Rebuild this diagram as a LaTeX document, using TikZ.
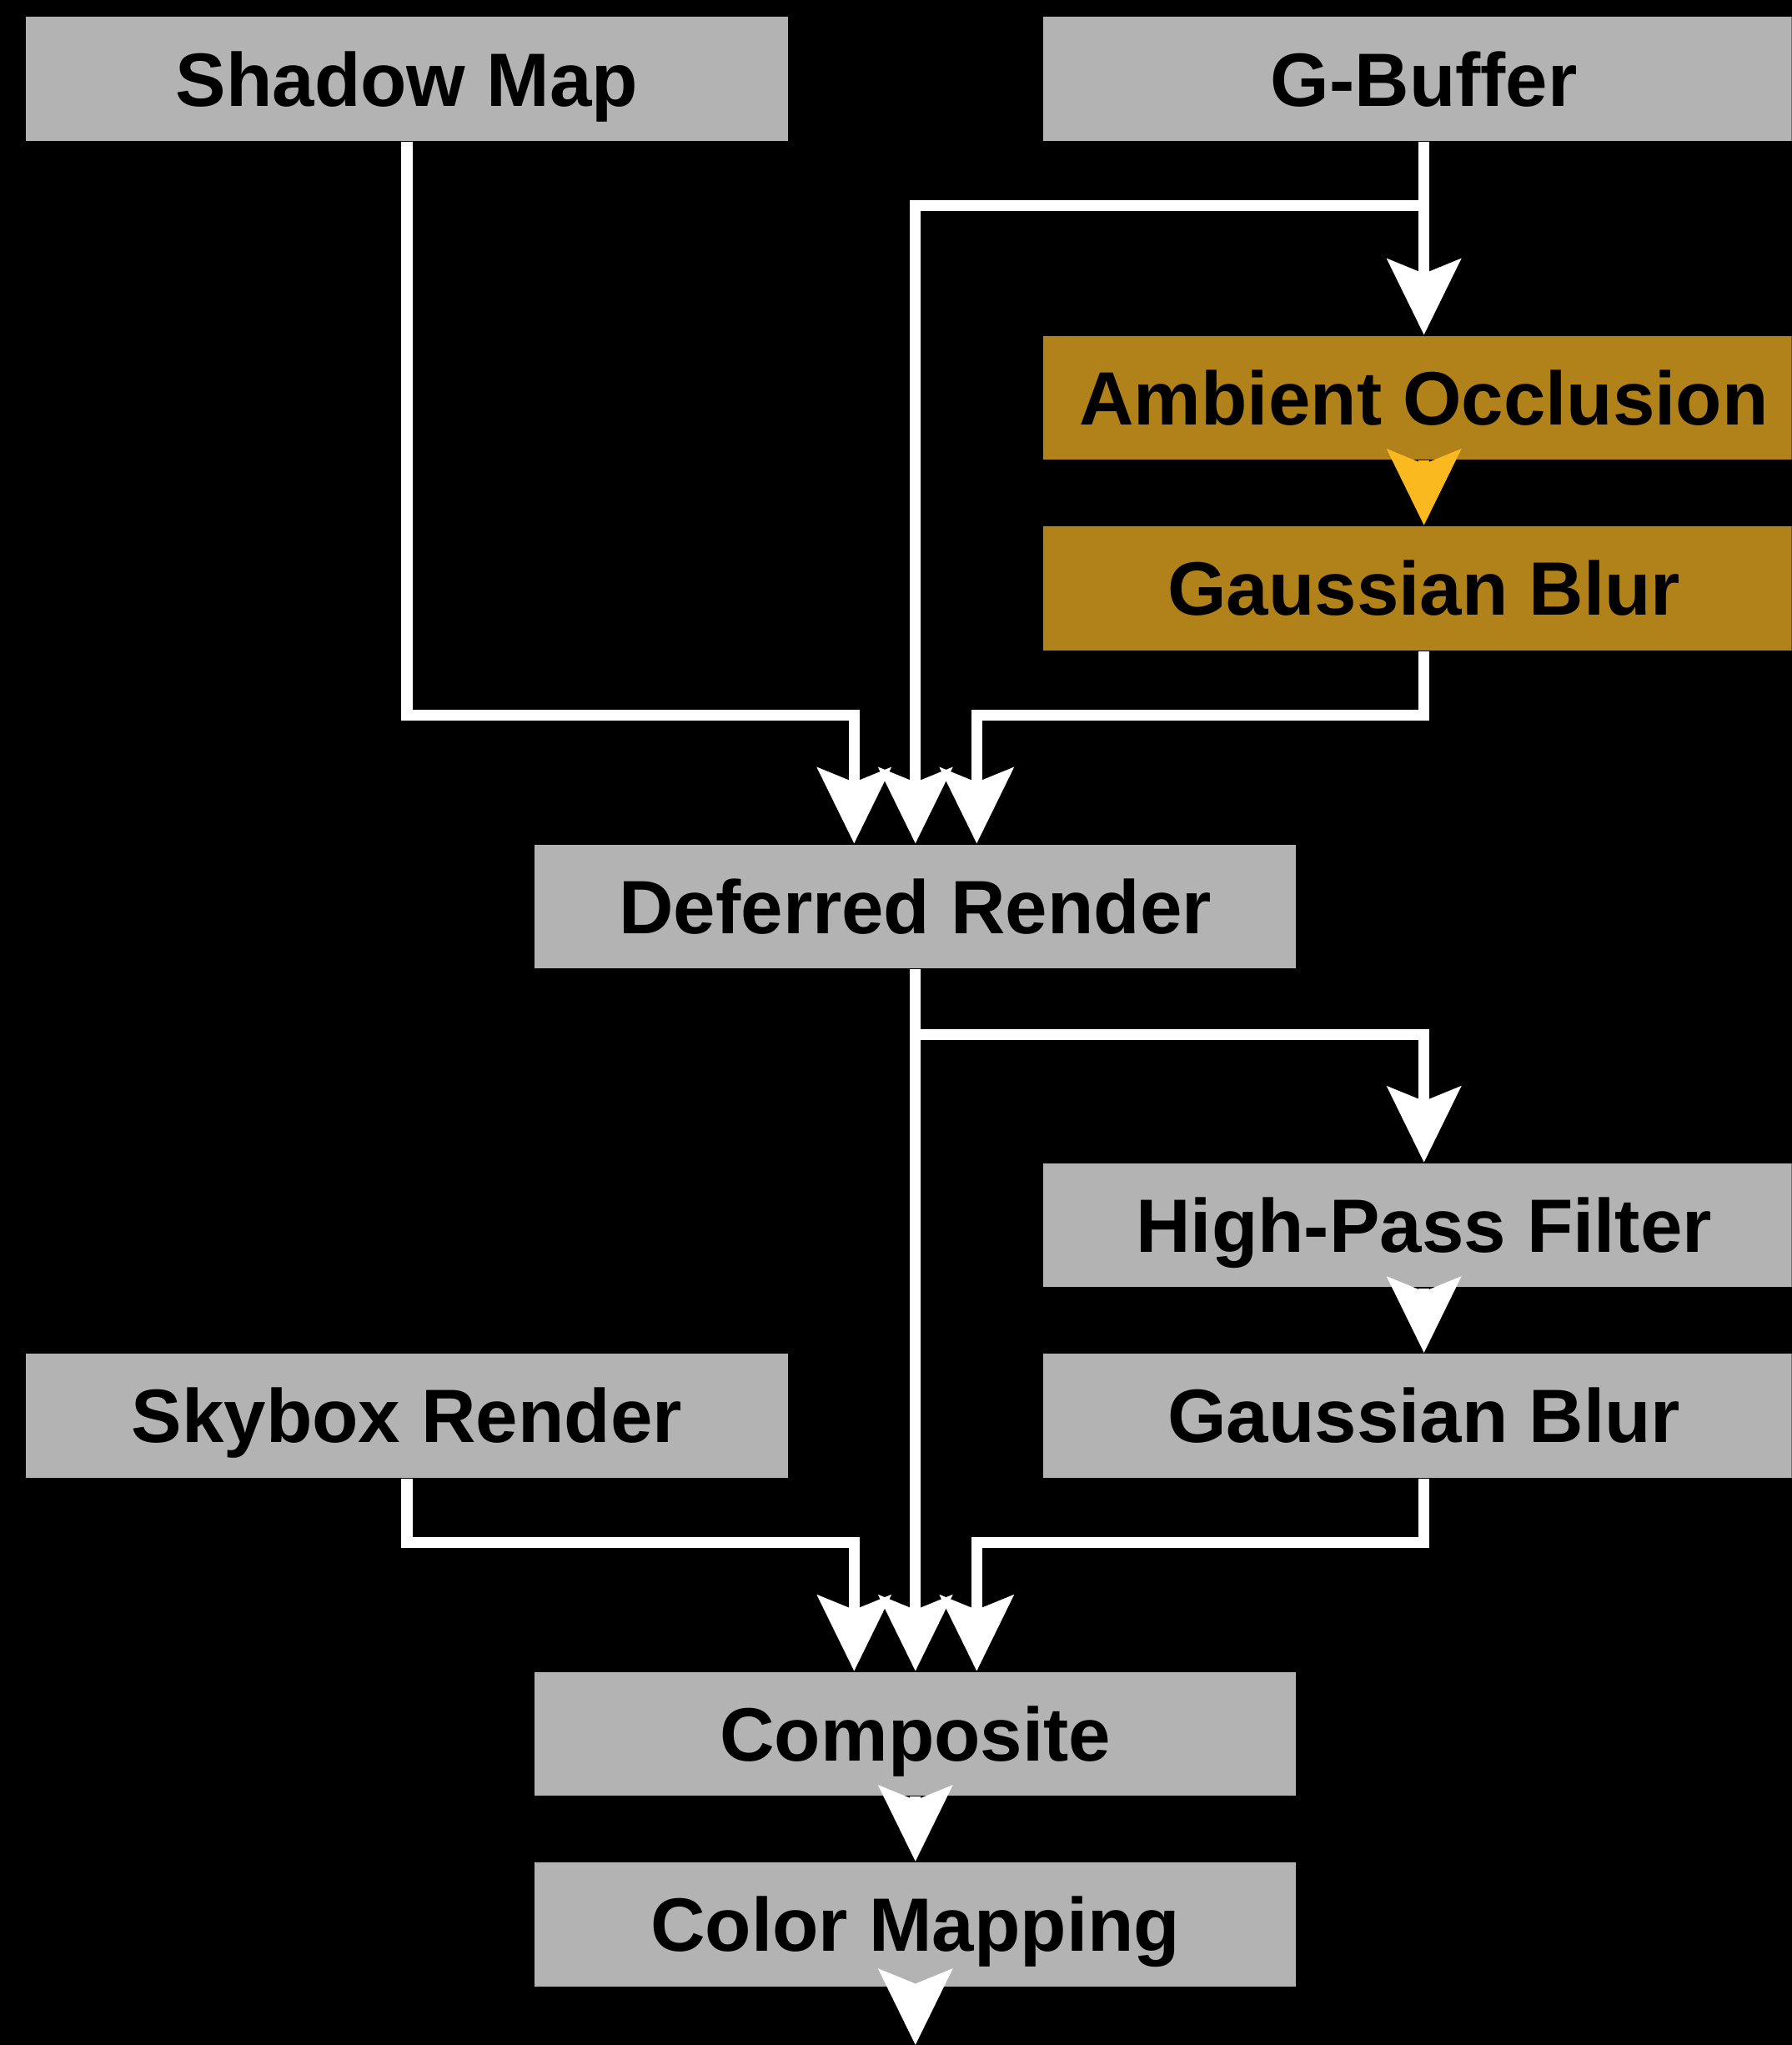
\documentclass[tikz,border=0pt]{standalone}
\usepackage{fontspec}
\setmainfont{Liberation Sans}
\usetikzlibrary{arrows.meta}
\definecolor{rpGray}{HTML}{B3B3B3}
\definecolor{rpGold}{HTML}{B08219}
\definecolor{rpAmber}{HTML}{FBB920}
\tikzset{
  rp box/.style={fill=rpGray, minimum width=5.84cm, minimum height=0.95cm, inner sep=0pt, text=black, font=\fontsize{16.5}{20}\selectfont\bfseries, text height=11.8pt, text depth=0pt},
  rp gold/.style={rp box, fill=rpGold},
  rp link/.style={draw=white, line width=0.85mm, -{Stealth[length=5.8mm,width=5.6mm,inset=1.1mm]}},
}
\begin{document}
\begin{tikzpicture}[x=1cm,y=1cm]
\useasboundingbox(0,0)rectangle(13.74,-15.68);
\fill[black](0,0)rectangle(13.74,-15.68);
\clip(0,0)rectangle(13.74,-15.68);
% passes
\node[rp box](shadow)at(3.12,-0.605){Shadow Map};
\node[rp box](gbuf)at(10.92,-0.605){G-Buffer};
\node[rp gold](ao)at(10.92,-3.05){Ambient Occlusion};
\node[rp gold](aoblur)at(10.92,-4.51){Gaussian Blur};
\node[rp box](defr)at(7.02,-6.95){Deferred Render};
\node[rp box](hpf)at(10.92,-9.395){High-Pass Filter};
\node[rp box](sky)at(3.12,-10.855){Skybox Render};
\node[rp box](hpblur)at(10.92,-10.855){Gaussian Blur};
\node[rp box](comp)at(7.02,-13.295){Composite};
\node[rp box](cmap)at(7.02,-14.755){Color Mapping};
\coordinate(out)at(7.02,-15.68);
% links
\draw[rp link](gbuf)--(ao);
\draw[rp link](gbuf.south)--++(0,-0.49)-|(defr.north);
\draw[rp link](shadow.south)--++(0,-4.395)-|([xshift=-4.7mm]defr.north);
\draw[rp link](aoblur.south)--++(0,-0.49)-|([xshift=4.7mm]defr.north);
\draw[rp link,draw=rpAmber](ao)--(aoblur);
\draw[rp link](defr)--(comp);
\draw[rp link](defr.south)--++(0,-0.5)-|(hpf.north);
\draw[rp link](hpf)--(hpblur);
\draw[rp link](sky.south)--++(0,-0.49)-|([xshift=-4.7mm]comp.north);
\draw[rp link](hpblur.south)--++(0,-0.49)-|([xshift=4.7mm]comp.north);
\draw[rp link](comp)--(cmap);
\draw[rp link](cmap)--(out);
\end{tikzpicture}
\end{document}
